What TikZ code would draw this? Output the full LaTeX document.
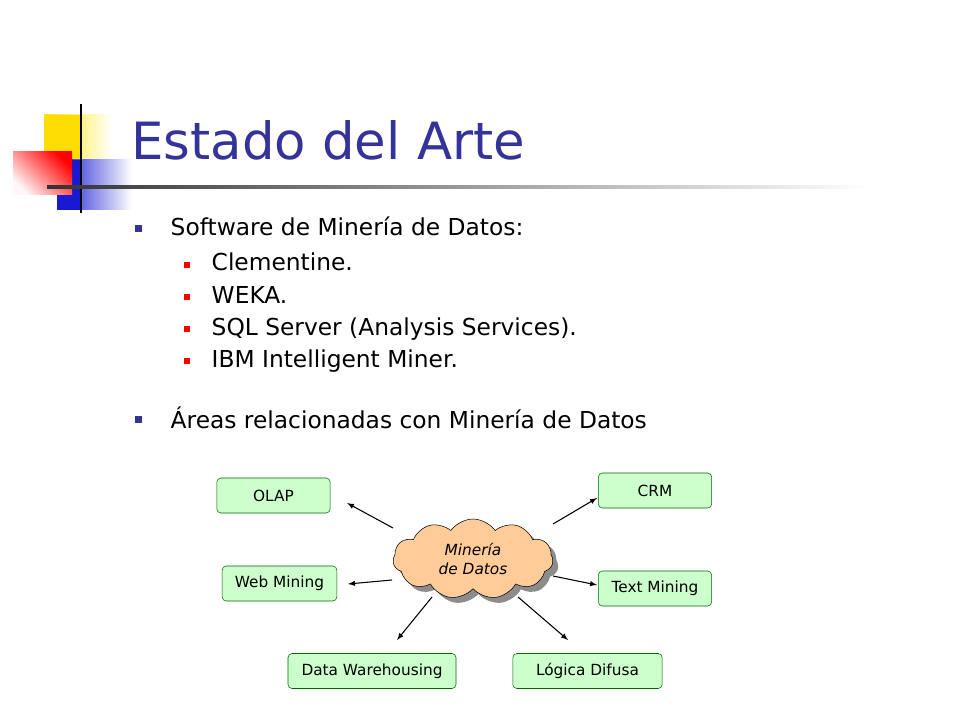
\documentclass[tikz,border=0pt]{standalone}
\usepackage{fontspec}
\setmainfont{DejaVu Sans}
\usetikzlibrary{shapes.symbols,shadows,fadings}
\definecolor{titleblue}{HTML}{333399}
\definecolor{boxfill}{HTML}{CCFFCC}
\definecolor{boxline}{HTML}{006600}
\definecolor{cloudfill}{HTML}{FFCC99}
\tikzset{
  areabox/.style={draw=boxline,fill=boxfill,rounded corners=3pt,minimum height=26.25pt,inner xsep=4pt,font=\fontsize{11.5}{13}\selectfont},
  arr/.style={-latex,thick},
  lvone/.style={anchor=base west,font=\fontsize{17.5}{20}\selectfont},
  lvtwo/.style={anchor=base west,font=\fontsize{17.5}{20}\selectfont},
}
\begin{document}
\begin{tikzpicture}[x=0.75pt,y=-0.75pt]
\useasboundingbox (0,0) rectangle (960,720);
% logo
\fill[left color=yellow!80!orange,right color=white] (44,115) rectangle (112,162);
\fill[yellow!80!orange] (44,115) rectangle (80,162);
\fill[left color=blue!80!black!90,right color=white] (57,160) rectangle (132,210);
\fill[blue!80!black!90] (57,160) rectangle (80,210);
\shade[top color=red,bottom color=red!3,shading angle=-45] (13,152) rectangle (72,195);
\draw[line width=2pt] (81,104) -- (81,213);
\shade[left color=black!80,right color=white] (47,186) rectangle (870,189);
\node[anchor=base west,text=titleblue,font=\fontsize{38.5}{44}\selectfont,inner sep=0pt] (title) at (131,160) {Estado del Arte};
% bullets
\foreach \y in {228,419}{ \fill[titleblue] (135,\y-3) rectangle +(7,7); }
\node[lvone] (b1) at (166,236) {Software de Minería de Datos:};
\node[lvone] (b2) at (166,428) {Áreas relacionadas con Minería de Datos};
\foreach \y in {263,295,327,359}{ \fill[red] (184,\y-1) rectangle +(6,6); }
\node[lvtwo] (s1) at (207,271) {Clementine.};
\node[lvtwo] (s2) at (207,303) {WEKA.};
\node[lvtwo] (s3) at (207,335) {SQL Server (Analysis Services).};
\node[lvtwo] (s4) at (207,367) {IBM Intelligent Miner.};
% cloud
\node[cloud,cloud puffs=11,cloud puff arc=110,aspect=2.2,draw,fill=cloudfill,minimum width=120pt,minimum height=60pt,drop shadow={shadow xshift=4pt,shadow yshift=-4pt,fill=black!45,opacity=1},align=center,font=\fontsize{11.5}{14}\selectfont\itshape,inner sep=0pt] (cl) at (473,559) {Minería\\de Datos};
% boxes
\node[areabox,minimum width=85pt] (olap) at (273.5,495.5) {OLAP};
\node[areabox,minimum width=85pt] (crm) at (655,490.5) {CRM};
\node[areabox,minimum width=86pt] (web) at (279.5,583.5) {Web Mining};
\node[areabox,minimum width=85pt] (text) at (655,588.5) {Text Mining};
\node[areabox,minimum width=126pt] (dw) at (372,671) {Data Warehousing};
\node[areabox,minimum width=112pt] (ld) at (587.5,671) {Lógica Difusa};
% arrow endpoints
\coordinate (a1s) at (393,528); \coordinate (a1e) at (347,503);
\coordinate (a2s) at (553,524); \coordinate (a2e) at (597,498);
\coordinate (a3s) at (392,580); \coordinate (a3e) at (348,584);
\coordinate (a4s) at (553,576); \coordinate (a4e) at (597,585);
\coordinate (a5s) at (432,597); \coordinate (a5e) at (397,640);
\coordinate (a6s) at (518,597); \coordinate (a6e) at (568,640);
\foreach \i in {1,...,6}{\draw[arr] (a\i s) -- (a\i e);}
\end{tikzpicture}
\end{document}
